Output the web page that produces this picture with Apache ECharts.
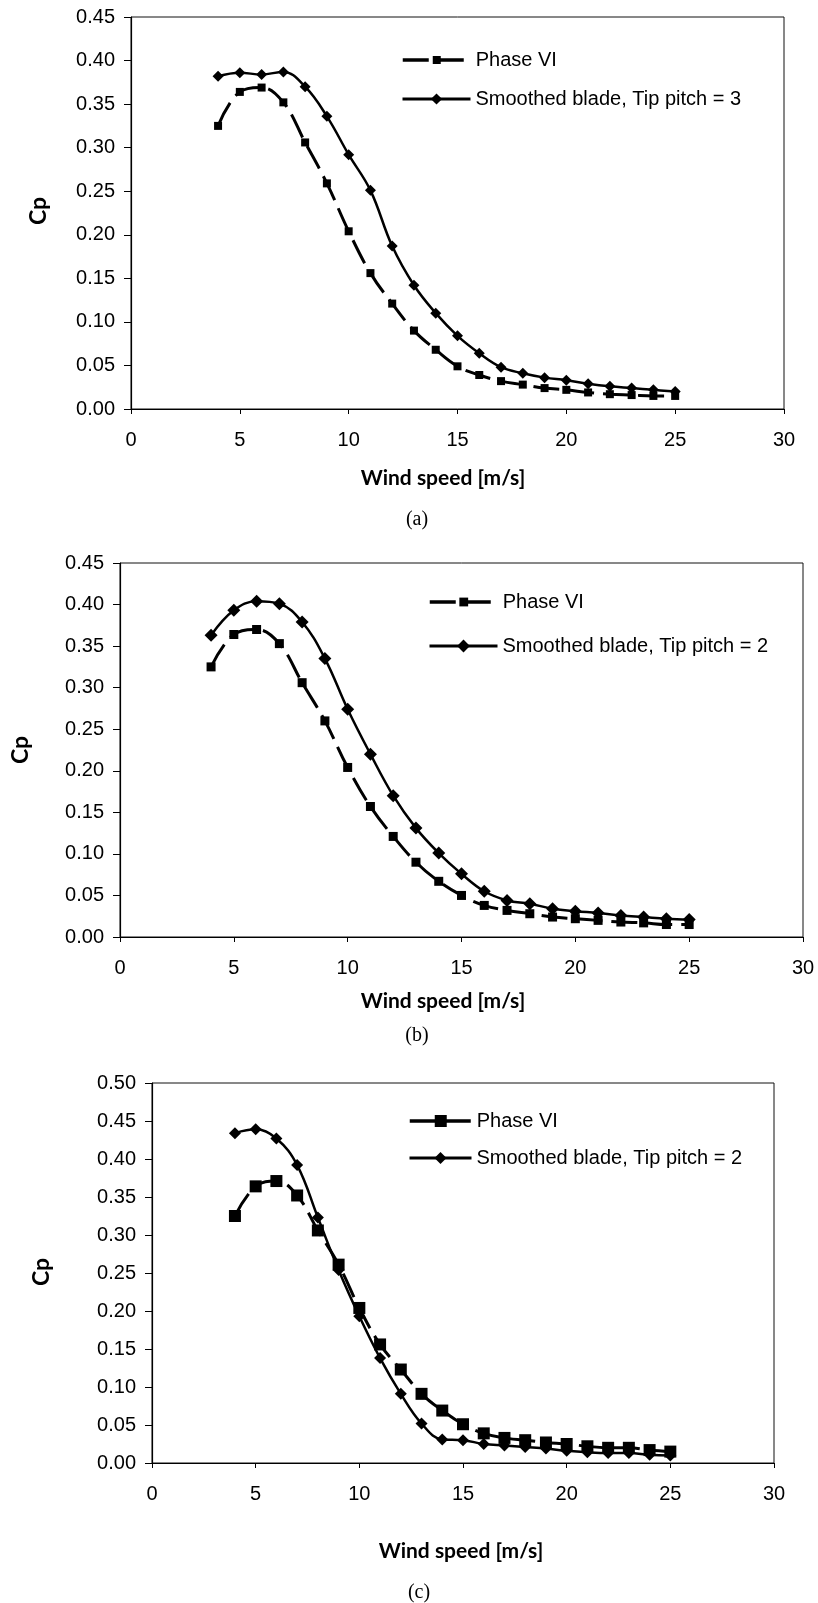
<!DOCTYPE html>
<html>
<head>
<meta charset="utf-8">
<script src="https://cdn.jsdelivr.net/npm/echarts@6/dist/echarts.min.js"></script>
<style>
html,body{margin:0;padding:0;background:#fff;}
#chart{width:818px;height:1603px;}
</style>
</head>
<body>
<div id="chart"></div>
<script>
/* Cp vs wind speed, three stacked panels (a) (b) (c).
   Phase VI = dashed + squares, smoothed blade = solid + diamonds. */
var windSpeed = [4,5,6,7,8,9,10,11,12,13,14,15,16,17,18,19,20,21,22,23,24,25];

var phaseA  = [0.325,0.364,0.369,0.352,0.306,0.259,0.204,0.156,0.121,0.090,0.068,0.049,0.039,0.032,0.028,0.024,0.022,0.019,0.017,0.016,0.015,0.015];
var smoothA = [0.382,0.386,0.384,0.387,0.370,0.336,0.292,0.251,0.187,0.142,0.110,0.084,0.064,0.048,0.041,0.036,0.033,0.029,0.026,0.024,0.022,0.020];

var phaseB  = [0.325,0.364,0.370,0.353,0.306,0.260,0.204,0.157,0.121,0.090,0.067,0.050,0.038,0.032,0.028,0.024,0.022,0.020,0.018,0.017,0.015,0.015];
var smoothB = [0.363,0.393,0.404,0.401,0.379,0.335,0.274,0.220,0.170,0.131,0.101,0.076,0.055,0.044,0.040,0.034,0.031,0.029,0.026,0.024,0.022,0.021];

var phaseC  = [0.325,0.364,0.371,0.352,0.306,0.261,0.204,0.156,0.123,0.091,0.069,0.051,0.039,0.033,0.030,0.027,0.025,0.022,0.020,0.020,0.017,0.015];
var smoothC = [0.434,0.439,0.427,0.392,0.323,0.254,0.193,0.138,0.091,0.052,0.031,0.030,0.025,0.023,0.021,0.019,0.016,0.014,0.013,0.013,0.011,0.010];

var xTicks = { min:0, max:30, interval:5 };
var yMaxAB = 0.45, yMaxC = 0.50, yStep = 0.05;

var PHASE = "Phase VI";
var SMOOTH3 = "Smoothed blade, Tip pitch = 3";
var SMOOTH2 = "Smoothed blade, Tip pitch = 2";

var TICK_FONT = "'Liberation Sans', Arial, sans-serif";
var TITLE_FONT = "Lato, 'Open Sans', sans-serif";
var CAP_FONT = "'Liberation Serif', 'Times New Roman', serif";
var DASH = [26, 9];

var panels = [
  { grid:{left:131, top:17,   width:653, height:392}, yMax:yMaxAB, phase:phaseA, smooth:smoothA, sName:SMOOTH3,
    sq:8, dia:11, leg:{left:401, y1:60,   y2:99,   w:68, h1:10, h2:14},
    title:{x:443, y:478}, cp:{x:39, y:211}, cap:{x:417, y:520, t:"(a)"} },
  { grid:{left:120, top:563,  width:683, height:374}, yMax:yMaxAB, phase:phaseB, smooth:smoothB, sName:SMOOTH2,
    sq:9, dia:13, leg:{left:428, y1:602,  y2:646,  w:68, h1:11, h2:16},
    title:{x:443, y:1001}, cp:{x:21, y:750}, cap:{x:417, y:1036, t:"(b)"} },
  { grid:{left:152, top:1083, width:622, height:380}, yMax:yMaxC, phase:phaseC, smooth:smoothC, sName:SMOOTH2,
    sq:12, dia:12, leg:{left:408, y1:1121, y2:1158, w:62, h1:15, h2:15},
    title:{x:461, y:1551}, cp:{x:42, y:1272}, cap:{x:419, y:1593, t:"(c)"} }
];

function pairs(ys){ return windSpeed.map(function(x,i){ return [x, ys[i]]; }); }

var grids = [], xAxes = [], yAxes = [], series = [], legends = [], texts = [];

panels.forEach(function(p, i){
  grids.push({ left:p.grid.left, top:p.grid.top, width:p.grid.width, height:p.grid.height,
    show:true, borderColor:"#111", borderWidth:1, backgroundColor:"transparent" });

  xAxes.push({ gridIndex:i, type:"value", min:xTicks.min, max:xTicks.max, interval:xTicks.interval,
    axisLine:{show:true, onZero:false, lineStyle:{color:"#000", width:1.2}},
    axisTick:{show:true, length:5, lineStyle:{color:"#000"}},
    axisLabel:{color:"#000", fontSize:20, fontFamily:TICK_FONT, margin:21},
    splitLine:{show:false} });

  yAxes.push({ gridIndex:i, type:"value", min:0, max:p.yMax, interval:yStep,
    axisLine:{show:true, lineStyle:{color:"#000", width:1.2}},
    axisTick:{show:true, length:7, lineStyle:{color:"#000"}},
    axisLabel:{color:"#000", fontSize:20, fontFamily:TICK_FONT, margin:16,
      formatter:function(v){ return (+v).toFixed(2); }},
    splitLine:{show:false} });

  series.push({ type:"line", name:PHASE, xAxisIndex:i, yAxisIndex:i, data:pairs(p.phase),
    smooth:0.4, symbol:"rect", symbolSize:p.sq, showSymbol:true,
    lineStyle:{color:"#000", width:3, type:DASH},
    itemStyle:{color:"#000"}, emphasis:{disabled:true}, z:2 });

  series.push({ type:"line", name:p.sName, xAxisIndex:i, yAxisIndex:i, data:pairs(p.smooth),
    smooth:0.4, symbol:"diamond", symbolSize:p.dia, showSymbol:true,
    lineStyle:{color:"#000", width:2.5, type:"solid"},
    itemStyle:{color:"#000"}, emphasis:{disabled:true}, z:3 });

  var L = p.leg;
  legends.push({ data:[PHASE], orient:"vertical", left:L.left, top:L.y1 - 10, padding:0,
    itemWidth:L.w, itemHeight:L.h1, selectedMode:false,
    lineStyle:{color:"#000", width:3.5, type:DASH},
    textStyle:{color:"#000", fontSize:20, fontFamily:TICK_FONT} });
  legends.push({ data:[p.sName], orient:"vertical", left:L.left, top:L.y2 - 10, padding:0,
    itemWidth:L.w, itemHeight:L.h2, selectedMode:false,
    lineStyle:{color:"#000", width:3, type:"solid"},
    textStyle:{color:"#000", fontSize:20, fontFamily:TICK_FONT} });

  texts.push({ type:"text", x:p.title.x, y:p.title.y,
    style:{ text:"Wind speed [m/s]", fill:"#000", font:"bold 21px " + TITLE_FONT,
      textAlign:"center", textVerticalAlign:"middle" } });
  texts.push({ type:"text", x:p.cp.x, y:p.cp.y, rotation:Math.PI/2,
    style:{ text:"Cp", fill:"#000", font:"bold 23px " + TITLE_FONT,
      textAlign:"center", textVerticalAlign:"middle" } });
  texts.push({ type:"text", x:p.cap.x, y:p.cap.y,
    style:{ text:p.cap.t, fill:"#000", font:"20px " + CAP_FONT,
      textAlign:"center", textVerticalAlign:"middle" } });
});

var chart = echarts.init(document.getElementById("chart"), null, {renderer:"canvas"});
chart.setOption({
  animation:false,
  backgroundColor:"#fff",
  grid:grids,
  xAxis:xAxes,
  yAxis:yAxes,
  legend:legends,
  series:series,
  graphic:{ elements:texts }
});
</script>
</body>
</html>
